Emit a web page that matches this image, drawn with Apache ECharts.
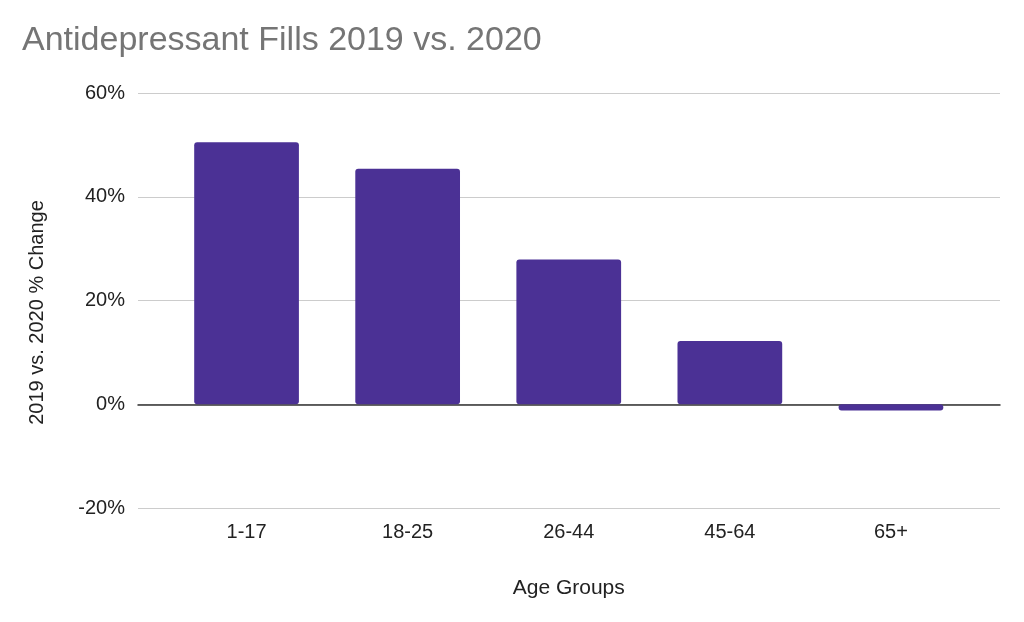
<!DOCTYPE html>
<html>
<head>
<meta charset="utf-8">
<script src="https://cdn.jsdelivr.net/npm/echarts@6/dist/echarts.min.js"></script>
<style>
html,body{margin:0;padding:0;background:#fff;}
#chart{width:1024px;height:622px;}
</style>
</head>
<body>
<div id="chart"></div>
<script>
var titleText = 'Antidepressant Fills 2019 vs. 2020';
var categories = ['1-17', '18-25', '26-44', '45-64', '65+'];
var pctChange = [50.5, 45.4, 27.9, 12.2, -1.2];
var yTicks = { min: -20, max: 60, interval: 20 };
var yAxisTitle = '2019 vs. 2020 % Change';
var xAxisTitle = 'Age Groups';

var FONT = '"Liberation Sans", Arial, Helvetica, sans-serif';
var chart = echarts.init(document.getElementById('chart'), null, {renderer: 'canvas'});
chart.setOption({
  backgroundColor: '#ffffff',
  animation: false,
  title: {
    text: titleText,
    left: 17,
    top: 19,
    textStyle: { fontFamily: FONT, fontSize: 34, fontWeight: 'normal', color: '#757575' }
  },
  grid: [
    { left: 138, right: 24, top: 93, bottom: 114 },
    { left: 166, right: 52.5, top: 93, bottom: 114 }
  ],
  xAxis: [
    {
      gridIndex: 0, type: 'value', min: 0, max: 1,
      axisLabel: { show: false }, axisTick: { show: false }, splitLine: { show: false },
      axisLine: { show: true, onZero: true, lineStyle: { color: '#333333', width: 1.5 } }
    },
    {
      gridIndex: 1, type: 'category', data: categories,
      axisLine: { show: false, onZero: false }, axisTick: { show: false },
      axisLabel: { fontFamily: FONT, fontSize: 20, color: '#222222', margin: 14 },
      name: xAxisTitle, nameLocation: 'middle', nameGap: 70,
      nameTextStyle: { fontFamily: FONT, fontSize: 21, color: '#222222' }
    }
  ],
  yAxis: [
    {
      gridIndex: 0, type: 'value', min: yTicks.min, max: yTicks.max, interval: yTicks.interval,
      axisLine: { show: false }, axisTick: { show: false },
      axisLabel: { fontFamily: FONT, fontSize: 20, color: '#222222', margin: 13, formatter: '{value}%' },
      splitLine: { show: true, lineStyle: { color: '#cccccc', width: 1 } },
      name: yAxisTitle, nameLocation: 'middle', nameRotate: 90, nameGap: 91,
      nameTextStyle: { fontFamily: FONT, fontSize: 20, color: '#222222', padding: [0, 24, 0, 0] }
    },
    {
      gridIndex: 1, type: 'value', min: yTicks.min, max: yTicks.max, interval: yTicks.interval,
      show: false
    }
  ],
  series: [
    {
      type: 'bar', xAxisIndex: 1, yAxisIndex: 1, data: pctChange,
      barWidth: '65%', z: 1,
      itemStyle: { color: '#4b3195', borderRadius: 3 }
    }
  ]
});
</script>
</body>
</html>
